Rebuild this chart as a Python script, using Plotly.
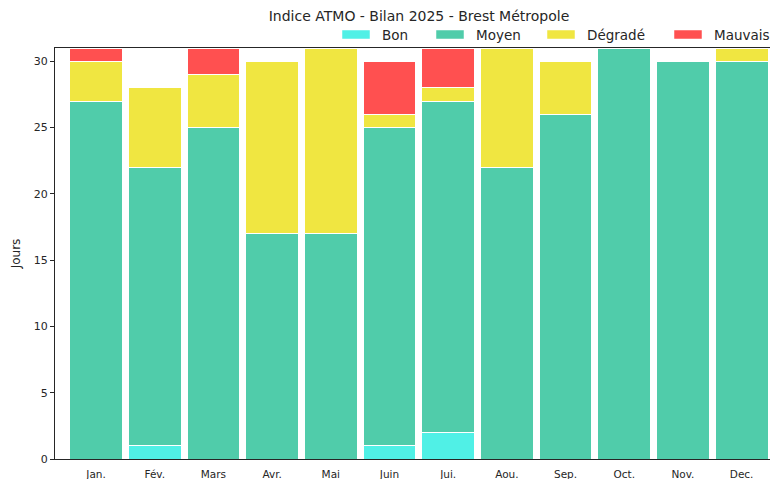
import plotly.graph_objects as go

months = ["Jan.", "Fév.", "Mars", "Avr.", "Mai", "Juin", "Jui.", "Aou.", "Sep.", "Oct.", "Nov.", "Dec."]
bon = [0, 1, 0, 0, 0, 1, 2, 0, 0, 0, 0, 0]
moyen = [27, 21, 25, 17, 17, 24, 25, 22, 26, 31, 30, 30]
degrade = [3, 6, 4, 13, 14, 1, 1, 9, 4, 0, 0, 1]
mauvais = [1, 0, 2, 0, 0, 4, 3, 0, 0, 0, 0, 0]

series = [
    ("Bon", bon, "#50F0E6"),
    ("Moyen", moyen, "#50CCAA"),
    ("Dégradé", degrade, "#F0E641"),
    ("Mauvais", mauvais, "#FF5050"),
]

# page body has an 8px margin: figure occupies 8..778 x 8..479 of the window
OFF = 8
W, H = 778 - OFF, 479 - OFF
ML, MR, MT, MB = 55 - OFF, 0, 48 - OFF, 479 - 459
PW, PH = W - ML - MR, H - MT - MB

def px_to_x(px):
    return (px - OFF - ML) / PW

def py_to_y(py):
    return (H - MB - (py - OFF)) / PH

fig = go.Figure()
for name, vals, col in series:
    fig.add_trace(go.Bar(
        x=list(range(len(months))), y=vals, name=name,
        marker=dict(color=col, line=dict(color="white", width=1)),
        width=0.9, showlegend=False,
    ))

# Manual legend (matplotlib-style patches), positions in window pixels
legend_patch_x = [342, 436, 547, 674]
shapes = []
annotations = []
for (name, vals, col), px in zip(series, legend_patch_x):
    shapes.append(dict(type="rect", xref="paper", yref="paper",
                       x0=px_to_x(px), x1=px_to_x(px + 28),
                       y0=py_to_y(39), y1=py_to_y(30),
                       fillcolor=col, line=dict(color="white", width=0.5), layer="above"))
    annotations.append(dict(text=name, xref="paper", yref="paper", showarrow=False,
                            x=px_to_x(px + 38), xanchor="left",
                            y=py_to_y(34.5), yanchor="middle",
                            font=dict(size=13.5, color="#262626")))

font = "DejaVu Sans, sans-serif"
fig.update_layout(
    barmode="stack",
    width=W, height=H,
    margin=dict(l=ML, r=MR, t=MT, b=MB, autoexpand=False),
    paper_bgcolor="white", plot_bgcolor="white",
    font=dict(family=font, size=11, color="#262626"),
    title=dict(text="Indice ATMO - Bilan 2025 - Brest Métropole", x=(419 - OFF) / W, xanchor="center",
               y=1 - (16 - OFF) / H, yanchor="middle", font=dict(size=14, color="#262626")),
    showlegend=False,
    shapes=shapes,
    annotations=annotations,
    bargap=0.1,
)
fig.update_xaxes(
    range=[-0.7, 11.62], tickmode="array", tickvals=list(range(len(months))), ticktext=months,
    showgrid=False, zeroline=False, showline=True, linecolor="#262626", linewidth=1,
    mirror=True, ticks="outside", ticklen=5, tickcolor="rgba(0,0,0,0)",
    tickfont=dict(size=10.5), automargin=False,
)
fig.update_yaxes(
    range=[0, 31], tickvals=[0, 5, 10, 15, 20, 25, 30], showgrid=False, zeroline=False,
    showline=True, linecolor="#262626", linewidth=1, mirror=False,
    ticks="outside", ticklen=4, tickcolor="#262626", tickfont=dict(size=11),
    title=dict(text="Jours", font=dict(size=12), standoff=10), automargin=False,
)
fig.write_html("out.html")
